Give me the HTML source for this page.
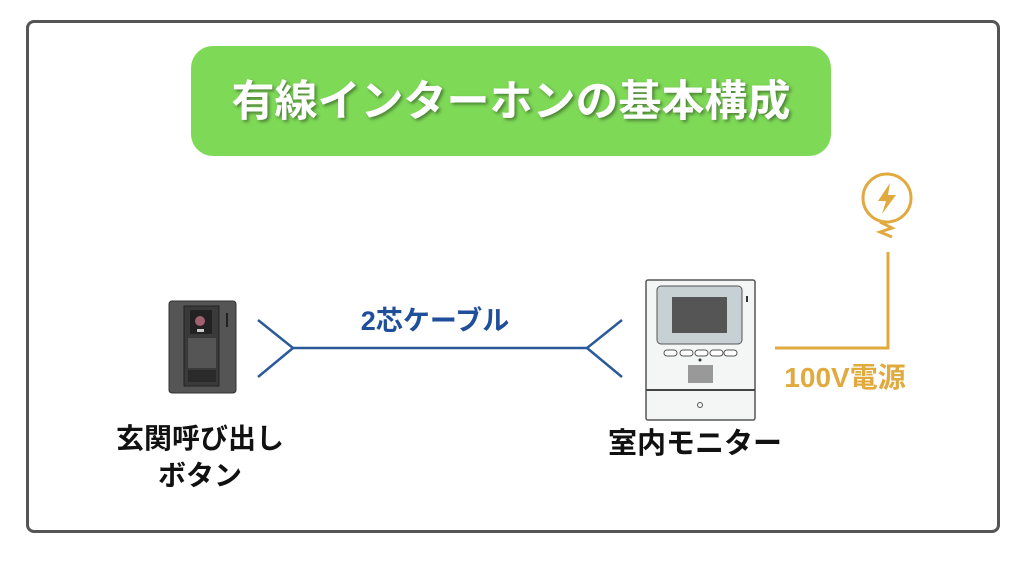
<!DOCTYPE html><html><head><meta charset="utf-8"><style>
body{margin:0;width:1024px;height:561px;background:#fff;position:relative;overflow:hidden;font-family:"Liberation Sans","Noto Sans CJK JP",sans-serif;font-weight:bold}
.a{position:absolute;white-space:nowrap}
</style></head><body>
<div class="a" style="left:26px;top:20px;width:968px;height:507px;border:3px solid #555;border-radius:8px"></div>
<div class="a" style="left:191px;top:46px;width:640px;height:110px;background:#7ed957;border-radius:22px"></div>
<div class="a" style="left:191px;top:72px;width:640px;text-align:center;color:#fff;font-size:43px;line-height:60px;text-shadow:2px 2px 3px rgba(0,0,0,.4)">有線インターホンの基本構成</div>
<svg class="a" style="left:0;top:0" width="1024" height="561">
<g stroke="#2a5a9a" stroke-width="2.5" fill="none">
<line x1="293" y1="348" x2="587" y2="348"/>
<polyline points="258,320 293,348 258,377"/>
<polyline points="622,320 587,348 622,377"/>
</g>
<g stroke="#e0aa3e" stroke-width="3" fill="none">
<polyline points="775,348 888,348 888,252"/>
<circle cx="887" cy="198" r="24"/>
<polyline points="880,222 892,228 880,232 892,237"/>
</g>
<polygon points="890,183 878,201 886,201 882,214 896,195 888,195" fill="#e0aa3e"/>
<rect x="169" y="301" width="67" height="92" rx="3" fill="#555" stroke="#333"/>
<rect x="184" y="306" width="35" height="80" fill="#3a3a3a" stroke="#222"/>
<rect x="190" y="310" width="22" height="24" fill="#222"/>
<circle cx="200" cy="321" r="5" fill="#a06070"/>
<rect x="197" y="329" width="7" height="3" fill="#ccc"/>
<rect x="188" y="338" width="28" height="30" fill="#555"/>
<rect x="188" y="370" width="28" height="12" fill="#2a2a2a"/>
<rect x="226" y="313" width="2" height="14" fill="#222"/>
<rect x="646" y="280" width="109" height="140" rx="2" fill="#f4f6f6" stroke="#555" stroke-width="1.5"/>
<line x1="646" y1="390" x2="755" y2="390" stroke="#444" stroke-width="2"/>
<rect x="657" y="286" width="85" height="58" rx="4" fill="#c7d0d2" stroke="#555"/>
<rect x="672" y="297" width="55" height="36" fill="#555"/>
<rect x="746" y="296" width="2" height="6" fill="#333"/>
<g fill="#fff" stroke="#555"><rect x="664" y="350" width="13" height="6" rx="3"/><rect x="680" y="350" width="13" height="6" rx="3"/><rect x="695" y="350" width="13" height="6" rx="3"/><rect x="710" y="350" width="13" height="6" rx="3"/><rect x="724" y="350" width="13" height="6" rx="3"/></g>
<circle cx="700" cy="360" r="1.5" fill="#333"/>
<rect x="688" y="365" width="25" height="18" fill="#999"/>
<circle cx="700" cy="405" r="2.5" fill="none" stroke="#555"/>
</svg>
<div class="a" style="left:335px;top:304px;width:200px;text-align:center;color:#1f4e9a;font-size:27px;line-height:34px">2芯ケーブル</div>
<div class="a" style="left:765px;top:360px;width:160px;text-align:center;color:#e0aa3e;font-size:28px;line-height:36px">100V電源</div>
<div class="a" style="left:70px;top:420px;width:260px;text-align:center;color:#111;font-size:28px;line-height:37px">玄関呼び出し<br>ボタン</div>
<div class="a" style="left:580px;top:426px;width:230px;text-align:center;color:#111;font-size:29px;line-height:37px">室内モニター</div>
</body></html>
